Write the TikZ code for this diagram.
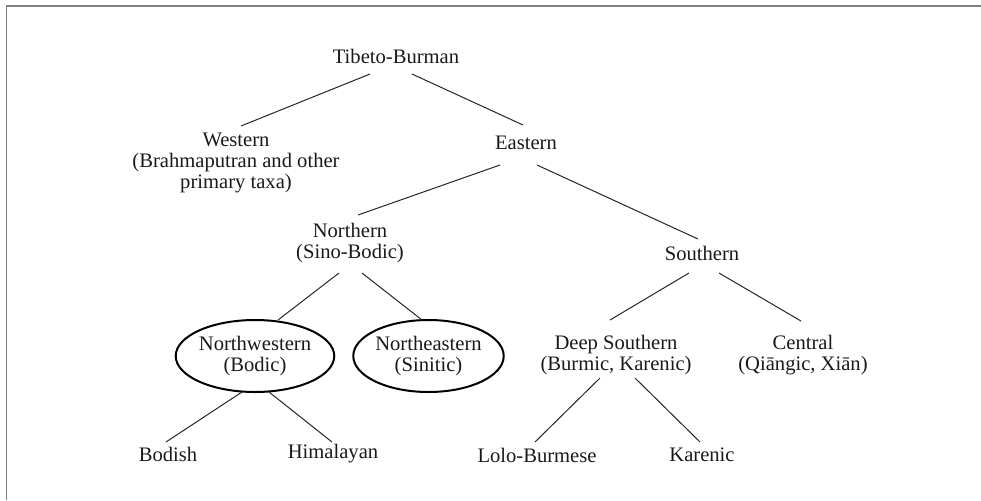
\documentclass[tikz,border=0pt]{standalone}
\usepackage{fontspec}
\setmainfont{Liberation Serif}
\usetikzlibrary{shapes.geometric,calc}

\begin{document}
\begin{tikzpicture}[x=0.5pt, y=-0.5pt, font=\fontsize{10.3pt}{10.5pt}\selectfont]

	% Styles
	\tikzset{
		taxon/.style={
			inner sep=0pt,
			align=center,
			text=black!90,
		},
		ringed/.style={
			taxon,
			ellipse, draw=black, line width=1pt,
			minimum width=72pt, minimum height=36pt,
		},
		branch/.style={
			line width=0.5pt, draw=black!85,
		}
	}

	% Frame
	\useasboundingbox (0,0) rectangle (981,500);
	\draw[black!50, line width=0.8pt] (6.5,500) -- (6.5,6) -- (981,6);

	% Top levels
	\node[taxon] (tb) at (396,56) {Tibeto-Burman};
	\node[taxon] (west) at (236,163) {Western\\(Brahmaputran and other\\primary taxa)};
	\node[taxon] (east) at (526,143) {Eastern};

	% Eastern branches
	\node[taxon] (north) at (350,243) {Northern\\(Sino-Bodic)};
	\node[taxon] (south) at (702,253) {Southern};

	% Northern branches (circled)
	\node[ringed] (nw) at (255,356) {Northwestern\\(Bodic)};
	\node[ringed] (ne) at (428.5,356) {Northeastern\\(Sinitic)};

	% Southern branches
	\node[taxon] (deep) at (616,355.5) {Deep Southern\\(Burmic, Karenic)};
	\node[taxon] (central) at (803,355) {Central\\(Qiāngic, Xiān)};

	% Bottom level
	\node[taxon] (bodish) at (168,454) {Bodish};
	\node[taxon] (himal) at (333,454) {Himalayan};
	\node[taxon] (lolo) at (537,455) {Lolo-Burmese};
	\node[taxon] (karen) at (702,455) {Karenic};

	% Branch lines
	\draw[branch] ($(tb)+(-26,18)$) -- ($(west)+(5,-37)$);
	\draw[branch] ($(tb)+(16,18)$) -- ($(east)+(-3,-18)$);
	\draw[branch] ($(east)+(-26,22)$) -- ($(north)+(8,-28)$);
	\draw[branch] ($(east)+(11,22)$) -- ($(south)+(-4,-14)$);
	\draw[branch] ($(north)+(-11,30)$) -- ($(nw)+(23,-36)$);
	\draw[branch] ($(north)+(12,30)$) -- ($(ne)+(-6.5,-36)$);
	\draw[branch] ($(south)+(-13,20)$) -- ($(deep)+(-6,-35.5)$);
	\draw[branch] ($(south)+(17,20)$) -- ($(central)+(-2,-34)$);
	\draw[branch] ($(nw)+(-13,36)$) -- ($(bodish)+(-2,-12)$);
	\draw[branch] ($(nw)+(14,36)$) -- ($(himal)+(-1,-12)$);
	\draw[branch] ($(deep)+(-16,22.5)$) -- ($(lolo)+(-2,-13)$);
	\draw[branch] ($(deep)+(19,22.5)$) -- ($(karen)+(-2,-13)$);

\end{tikzpicture}
\end{document}
